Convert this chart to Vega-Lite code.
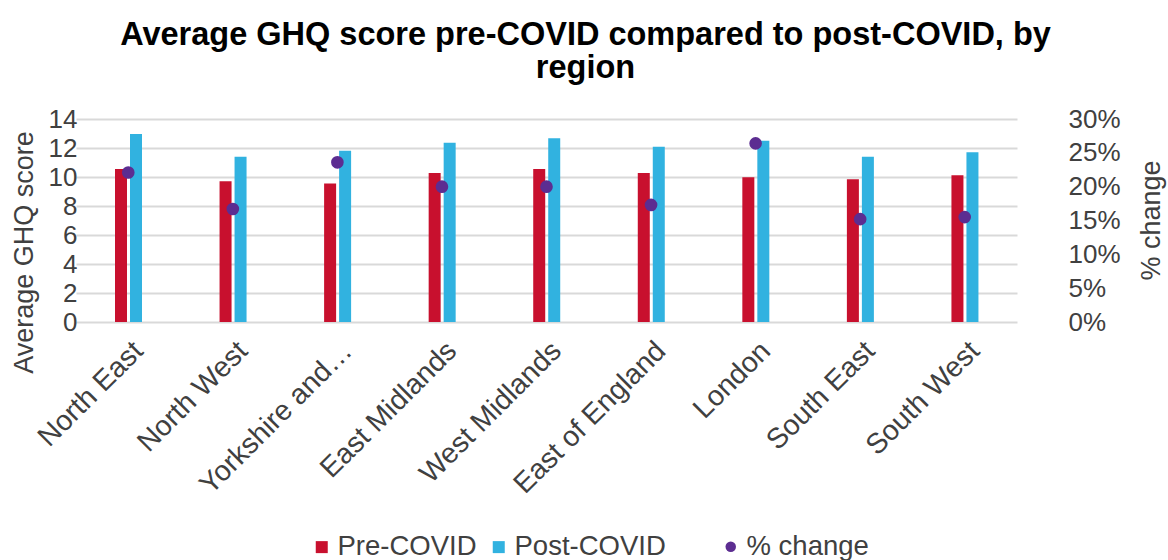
{
  "$schema": "https://vega.github.io/schema/vega-lite/v6.json",
  "width": 945,
  "height": 203,
  "autosize": {"type": "none"},
  "padding": {"left": 100, "top": 119, "right": 123, "bottom": 238},
  "background": "white",
  "config": {"font": "Liberation Sans", "view": {"stroke": null}},
  "title": {
    "text": ["Average GHQ score pre-COVID compared to post-COVID, by", "region"],
    "fontSize": 32.5,
    "fontWeight": "bold",
    "font": "Liberation Sans",
    "color": "#000000",
    "anchor": "middle",
    "dx": 13,
    "offset": 22,
    "lineHeight": 33
  },
  "data": {
    "values": [
      {"region": "North East", "Pre-COVID": 10.55, "Post-COVID": 12.97, "pct": 0.221},
      {"region": "North West", "Pre-COVID": 9.70, "Post-COVID": 11.40, "pct": 0.167},
      {"region": "Yorkshire and the Humber", "Pre-COVID": 9.56, "Post-COVID": 11.81, "pct": 0.236},
      {"region": "East Midlands", "Pre-COVID": 10.28, "Post-COVID": 12.37, "pct": 0.200},
      {"region": "West Midlands", "Pre-COVID": 10.55, "Post-COVID": 12.67, "pct": 0.200},
      {"region": "East of England", "Pre-COVID": 10.28, "Post-COVID": 12.09, "pct": 0.173},
      {"region": "London", "Pre-COVID": 9.98, "Post-COVID": 12.50, "pct": 0.264},
      {"region": "South East", "Pre-COVID": 9.84, "Post-COVID": 11.40, "pct": 0.152},
      {"region": "South West", "Pre-COVID": 10.12, "Post-COVID": 11.70, "pct": 0.155}
    ]
  },
  "layer": [
    {
      "transform": [{"fold": ["Pre-COVID", "Post-COVID"], "as": ["series", "value"]}],
      "mark": {"type": "bar"},
      "encoding": {
        "x": {
          "field": "region",
          "type": "nominal",
          "sort": null,
          "scale": {"range": [-24, 917], "paddingInner": 0, "paddingOuter": 0},
          "axis": {
            "title": null,
            "labelAngle": -45,
            "labelFontSize": 28.5,
            "labelColor": "#404040",
            "labelPadding": 14,
            "labelOverlap": false,
            "labelLimit": 400,
            "domain": false,
            "ticks": false,
            "labelExpr": "datum.label == 'Yorkshire and the Humber' ? 'Yorkshire and…' : datum.label"
          }
        },
        "xOffset": {
          "field": "series",
          "type": "nominal",
          "scale": {"domain": ["Pre-COVID", "Post-COVID"], "range": [39, 66], "paddingInner": 0.2, "paddingOuter": 0}
        },
        "y": {
          "field": "value",
          "type": "quantitative",
          "scale": {"domain": [0, 14], "nice": false},
          "axis": {
            "orient": "left",
            "values": [0, 2, 4, 6, 8, 10, 12, 14],
            "title": "Average GHQ score",
            "titleFontSize": 27,
            "titleFontWeight": "normal",
            "titleColor": "#404040",
            "titleAngle": 270,
            "titleX": -76,
            "titleY": 133,
            "titleAlign": "center",
            "titleBaseline": "middle",
            "labelFontSize": 26,
            "labelColor": "#404040",
            "labelPadding": 23,
            "domain": false,
            "ticks": false,
            "grid": true,
            "gridColor": "#D9D9D9",
            "gridWidth": 2
          }
        },
        "color": {
          "field": "series",
          "type": "nominal",
          "scale": {"domain": ["Pre-COVID", "Post-COVID"], "range": ["#C8102E", "#31B2E0"]},
          "legend": {
            "title": null,
            "orient": "none",
            "legendX": 208,
            "legendY": 414,
            "direction": "horizontal",
            "symbolType": "square",
            "symbolSize": 144,
            "symbolStrokeWidth": 0,
            "labelFontSize": 27.5,
            "labelColor": "#404040",
            "labelOffset": 2,
            "columnPadding": 8
          }
        }
      }
    },
    {
      "mark": {"type": "point", "filled": true, "size": 160, "opacity": 1},
      "encoding": {
        "x": {"field": "region", "type": "nominal", "sort": null},
        "y": {
          "field": "pct",
          "type": "quantitative",
          "scale": {"domain": [0, 0.3], "nice": false},
          "axis": {
            "orient": "right",
            "values": [0, 0.05, 0.1, 0.15, 0.2, 0.25, 0.3],
            "format": ".0%",
            "title": "% change",
            "titleFontSize": 27,
            "titleFontWeight": "normal",
            "titleColor": "#404040",
            "titleAngle": 270,
            "titleX": 106,
            "titleY": 101,
            "titleAlign": "center",
            "titleBaseline": "middle",
            "labelFontSize": 26,
            "labelColor": "#404040",
            "labelPadding": 23,
            "domain": false,
            "ticks": false,
            "grid": false
          }
        },
        "color": {
          "datum": "% change",
          "type": "nominal",
          "scale": {"domain": ["% change"], "range": ["#5C2D91"]},
          "legend": {
            "title": null,
            "orient": "none",
            "legendX": 617,
            "legendY": 414,
            "symbolType": "circle",
            "symbolSize": 110,
            "symbolStrokeWidth": 0,
            "labelFontSize": 27.5,
            "labelColor": "#404040",
            "labelOffset": 2
          }
        }
      }
    }
  ],
  "resolve": {"scale": {"y": "independent", "color": "independent"}}
}
